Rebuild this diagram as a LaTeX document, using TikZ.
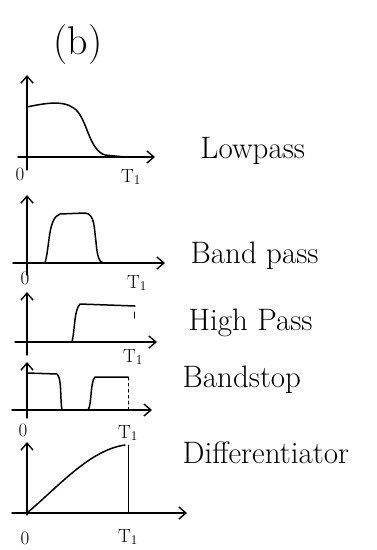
\documentclass[tikz,border=0pt]{standalone}
\usetikzlibrary{arrows.meta}
\begin{document}
\begin{tikzpicture}[x=1pt,y=-1pt, line width=1.4pt, line cap=round, line join=round,
 axis/.style={-{Straight Barb[length=7pt,width=12pt]}},
 curve/.style={line width=1.5pt},
 lbl/.style={font=\fontsize{31}{36}\selectfont, anchor=base west, inner sep=0pt},
 ticklbl/.style={font=\fontsize{19}{22}\selectfont, inner sep=0pt}]
\useasboundingbox (0,0) rectangle (376,550);
\fill[white] (0,0) rectangle (376,550);
\node[font=\fontsize{40}{46}\selectfont] (title) at (78,45) {(b)};
% Lowpass
\draw[axis] (27,170) -- (27,75);
\draw[axis] (18,157) -- (155,157);
\draw[curve] (27,107) .. controls (50,102) and (68,100) .. (78,112) .. controls (88,125) and (90,150) .. (105,155) -- (125,157);
\node[ticklbl] (o1) at (20,174) {0};
\node[ticklbl] (t1) at (131,177) {T\textsubscript{1}};
\node[lbl] (lp) at (200,158) {Lowpass};
% Band pass
\draw[axis] (27,275) -- (27,195);
\draw[axis] (13,263) -- (165,263);
\draw[curve] (45,263) .. controls (50,245) and (48,218) .. (60,214) -- (85,213) .. controls (95,214) and (94,228) .. (96,242) .. controls (97,255) and (99,262) .. (103,263);
\node[ticklbl] (o2) at (25,278) {0};
\node[ticklbl] (t2) at (137,283) {T\textsubscript{1}};
\node[lbl] (bp) at (190,263) {Band pass};
% High pass
\draw[axis] (27,355) -- (27,292);
\draw[axis] (15,342) -- (157,342);
\draw[curve] (72,342) .. controls (75,330) and (74,310) .. (80,304) -- (135,306);
\draw[line width=1pt] (134,312) -- (134,318);
\node[ticklbl] (t3) at (133,357) {T\textsubscript{1}};
\node[lbl] (hp) at (188,330) {High Pass};
% Band stop
\draw[axis] (27,418) -- (27,362);
\draw[axis] (12,410) -- (152,410);
\draw[curve] (27,373) -- (57,374) .. controls (62,378) and (60,400) .. (62,410);
\draw[curve] (88,410) .. controls (92,405) and (90,382) .. (95,377) -- (128,377);
\draw[line width=1pt, dashed] (128,377) -- (128,410);
\node[ticklbl] (o4) at (23,430) {0};
\node[ticklbl] (t4) at (128,433) {T\textsubscript{1}};
\node[lbl] (bs) at (182,387) {Bandstop};
% Differentiator
\draw[axis] (27,515) -- (27,442);
\draw[axis] (12,513) -- (187,513);
\draw[curve] (27,513) .. controls (60,485) and (90,450) .. (125,445);
\draw[line width=1pt] (128,445) -- (128,513);
\node[ticklbl] (o5) at (25,538) {0};
\node[ticklbl] (t5) at (128,537) {T\textsubscript{1}};
\node[lbl] (df) at (182,463) {Differentiator};
\end{tikzpicture}
\end{document}
